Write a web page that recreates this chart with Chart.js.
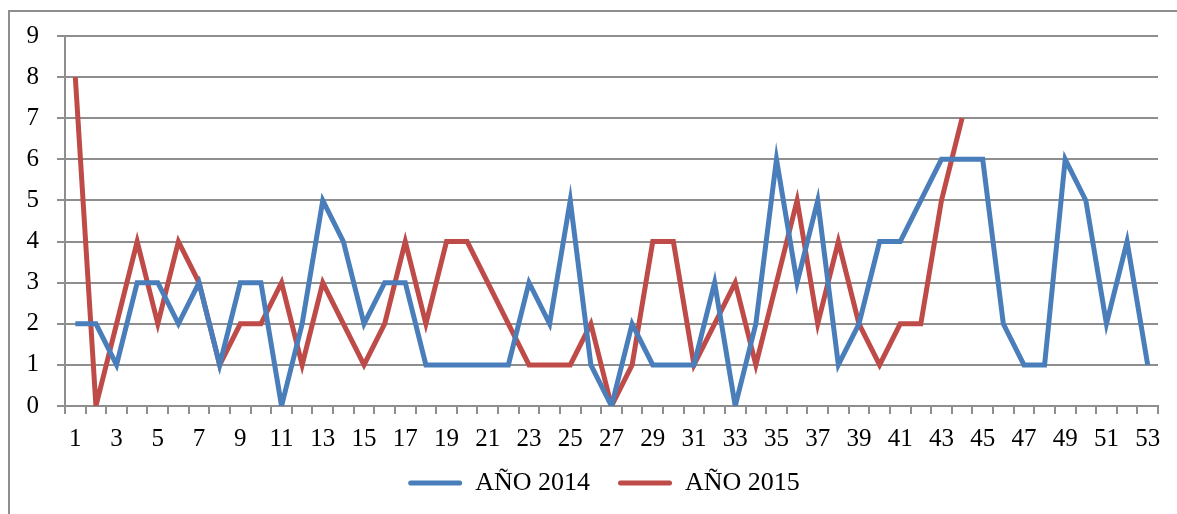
<!DOCTYPE html>
<html>
<head>
<meta charset="utf-8">
<script src="https://cdn.jsdelivr.net/npm/chart.js@4/dist/chart.umd.min.js"></script>
<style>
  html, body { margin: 0; padding: 0; background: #fff; overflow: hidden; }
  #frame { position: absolute; left: 8px; top: 10px; width: 1200px; height: 540px; border: 2px solid #8e8e8e; }
  #wrap { position: absolute; left: 0; top: 0; width: 1177px; height: 530px; }
</style>
</head>
<body>
<div id="frame"></div>
<div id="wrap"><canvas id="line_chart"></canvas></div>
<script>
var weeks = [1, 2, 3, 4, 5, 6, 7, 8, 9, 10, 11, 12, 13, 14, 15, 16, 17, 18, 19, 20,
    21, 22, 23, 24, 25, 26, 27, 28, 29, 30, 31, 32, 33, 34, 35, 36, 37, 38, 39, 40,
    41, 42, 43, 44, 45, 46, 47, 48, 49, 50, 51, 52, 53];

var ano2014 = [2, 2, 1, 3, 3, 2, 3, 1, 3, 3, 0, 2, 5, 4, 2, 3, 3, 1, 1, 1,
    1, 1, 3, 2, 5, 1, 0, 2, 1, 1, 1, 3, 0, 2, 6, 3, 5, 1, 2, 4,
    4, 5, 6, 6, 6, 2, 1, 1, 6, 5, 2, 4, 1];

var ano2015 = [8, 0, 2, 4, 2, 4, 3, 1, 2, 2, 3, 1, 3, 2, 1, 2, 4, 2, 4, 4,
    3, 2, 1, 1, 1, 2, 0, 1, 4, 4, 1, 2, 3, 1, 3, 5, 2, 4, 2, 1,
    2, 2, 5, 7];

var yTicks = [0, 1, 2, 3, 4, 5, 6, 7, 8, 9];

var font_family = '"Liberation Serif", "DejaVu Serif", serif';

// legend sits a little right of centre and closer to the axis in the original
var legend_shift = {
    id: 'legend_shift',
    afterLayout: function (chart) {
        chart.legend.left += 25;
        chart.legend.right += 25;
        chart.legend.top -= 12;
        chart.legend.bottom -= 12;
    }
};

var line_chart = document.getElementById('line_chart');
var My_line_chart = new Chart(line_chart, {
    type: 'line',
    data: {
        labels: weeks,
        datasets: [{
            label: 'AÑO 2014',
            data: ano2014,
            borderColor: '#4a7ebb',
            backgroundColor: '#4a7ebb',
            borderWidth: 5,
            pointRadius: 0,
            tension: 0,
            fill: false,
            borderJoinStyle: 'miter'
        }, {
            label: 'AÑO 2015',
            data: ano2015,
            borderColor: '#be4b48',
            backgroundColor: '#be4b48',
            borderWidth: 5,
            pointRadius: 0,
            tension: 0,
            fill: false,
            borderJoinStyle: 'miter'
        }]
    },
    options: {
        responsive: true,
        maintainAspectRatio: false,
        animation: false,
        layout: {
            padding: { left: 0, top: 36, right: 19, bottom: 12 }
        },
        plugins: {
            tooltip: { enabled: false },
            legend: {
                position: 'bottom',
                labels: {
                    boxWidth: 54,
                    boxHeight: 5,
                    useBorderRadius: true,
                    borderRadius: 2.5,
                    padding: 28,
                    color: '#000',
                    font: { family: font_family, size: 26 },
                    generateLabels: function (chart) {
                        var items = Chart.defaults.plugins.legend.labels.generateLabels(chart);
                        items.forEach(function (item) { item.lineWidth = 0; });
                        return items;
                    }
                }
            }
        },
        scales: {
            x: {
                offset: true,
                afterFit: function (scale) {
                    scale.height = 48;
                },
                grid: {
                    offset: true,
                    drawOnChartArea: false,
                    drawTicks: true,
                    tickLength: 8,
                    color: '#8e8e8e',
                    lineWidth: 2
                },
                border: { color: '#8e8e8e', width: 2 },
                ticks: {
                    autoSkip: false,
                    maxRotation: 0,
                    padding: 10,
                    color: '#000',
                    font: { family: font_family, size: 25 },
                    callback: function (value, index) {
                        return index % 2 === 0 ? weeks[index] : '';
                    }
                }
            },
            y: {
                min: 0,
                max: 9,
                afterBuildTicks: function (scale) {
                    scale.ticks = yTicks.map(function (v) { return { value: v }; });
                },
                afterFit: function (scale) {
                    scale.width = 65;
                },
                grid: {
                    color: '#8e8e8e',
                    lineWidth: 2,
                    tickLength: 8
                },
                border: { color: '#8e8e8e', width: 2 },
                ticks: {
                    padding: 18,
                    color: '#000',
                    font: { family: font_family, size: 25 }
                }
            }
        }
    },
    plugins: [legend_shift]
});
</script>
</body>
</html>
